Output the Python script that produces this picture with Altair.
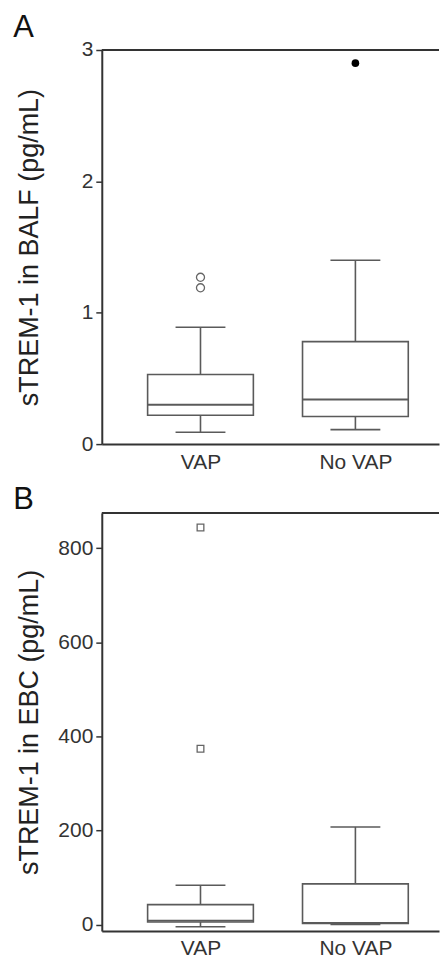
import altair as alt
import pandas as pd

categories = ["VAP", "No VAP"]

# Panel A: sTREM-1 in BALF (pg/mL)
a_lower = [0.09, 0.11]
a_q1 = [0.22, 0.21]
a_median = [0.30, 0.34]
a_q3 = [0.53, 0.78]
a_upper = [0.89, 1.40]
a_out_group = ["VAP", "VAP", "No VAP"]
a_out_value = [1.19, 1.27, 2.90]
a_out_filled = [False, False, True]
a_ticks = [0, 1, 2, 3]

# Panel B: sTREM-1 in EBC (pg/mL)
b_lower = [-4, 1]
b_q1 = [6, 3]
b_median = [9, 4]
b_q3 = [43, 87]
b_upper = [84, 208]
b_out_group = ["VAP", "VAP"]
b_out_value = [374, 844]
b_out_filled = [False, False]
b_ticks = [0, 200, 400, 600, 800]

FONT = "Liberation Sans"
BOX = "#5a5a5a"
AX = "#333333"
W = 338
PX_PER_CAT = 160
X0 = 1 - 96.8 / PX_PER_CAT
label_expr = "[" + ",".join("'" + c + "'" for c in categories) + "][datum.value - 1]"


def panel(letter, title, lower, q1, med, q3, upper, og, ov, of, yticks, ydomain, H, letter_y,
          shape, open_size, fill_size):
    box_df = pd.DataFrame({
        "group": categories,
        "pos": [i + 1 for i in range(len(categories))],
        "lower": lower, "q1": q1, "median": med, "q3": q3, "upper": upper,
    })
    out_df = pd.DataFrame({
        "group": og,
        "pos": [categories.index(g) + 1 for g in og],
        "value": ov,
        "filled": of,
    })
    xenc = alt.X("pos:Q",
                 scale=alt.Scale(domain=[X0, X0 + W / PX_PER_CAT], nice=False, zero=False),
                 axis=alt.Axis(values=[1, 2], labelExpr=label_expr, ticks=False, grid=False,
                               title=None, domainColor=AX, domainWidth=2, labelFont=FONT,
                               labelFontSize=21, labelColor="#333", labelPadding=7))
    yaxis = alt.Axis(values=yticks, grid=False, title=title, domainColor=AX, domainWidth=2,
                     tickColor=AX, tickSize=6, tickWidth=1.5, labelFont=FONT, labelFontSize=21,
                     labelColor="#333", labelPadding=3, titleFont=FONT, titleFontSize=27,
                     titleFontWeight="normal", titleColor="#222", titleX=-72, titleY=H / 2,
                     titleAngle=270, titleAlign="center", titleBaseline="middle")
    yscale = alt.Scale(domain=ydomain, nice=False, zero=False)

    def Y(field):
        return alt.Y(field + ":Q", scale=yscale, axis=yaxis)

    base = alt.Chart(box_df)
    top_rule = alt.Chart(pd.DataFrame({"k": [0]})).mark_rule(color=AX, strokeWidth=2).encode(
        x=alt.value(0), x2=alt.value(W), y=alt.value(0))
    box = base.mark_bar(fill="white", stroke=BOX, strokeWidth=1.6, size=106).encode(
        x=xenc, y=Y("q1"), y2="q3")
    whisk_hi = base.mark_rule(color=BOX, strokeWidth=1.6).encode(x=xenc, y=Y("q3"), y2="upper")
    whisk_lo = base.mark_rule(color=BOX, strokeWidth=1.6).encode(x=xenc, y=Y("lower"), y2="q1")
    cap_hi = base.mark_tick(orient="horizontal", size=50, thickness=1.6, color=BOX, opacity=1).encode(
        x=xenc, y=Y("upper"))
    cap_lo = base.mark_tick(orient="horizontal", size=50, thickness=1.6, color=BOX, opacity=1).encode(
        x=xenc, y=Y("lower"))
    median = base.mark_tick(orient="horizontal", size=106, thickness=1.9, color=BOX, opacity=1).encode(
        x=xenc, y=Y("median"))
    out_open = alt.Chart(out_df).transform_filter("!datum.filled").mark_point(
        shape=shape, filled=False, stroke="#666", strokeWidth=1.3, size=open_size, opacity=1).encode(
        x=xenc, y=Y("value"))
    out_fill = alt.Chart(out_df).transform_filter("datum.filled").mark_point(
        shape=shape, filled=True, color="#000", size=fill_size, opacity=1).encode(
        x=xenc, y=Y("value"))
    letter_t = alt.Chart(pd.DataFrame({"k": [0]})).mark_text(
        text=letter, font=FONT, fontSize=31, align="left", baseline="alphabetic", color="#111").encode(
        x=alt.value(-88.7), y=alt.value(letter_y))
    return alt.layer(top_rule, box, whisk_hi, whisk_lo, cap_hi, cap_lo, median,
                     out_open, out_fill, letter_t).properties(width=W, height=H)


pA = panel("A", "sTREM-1 in BALF (pg/mL)", a_lower, a_q1, a_median, a_q3, a_upper,
           a_out_group, a_out_value, a_out_filled, a_ticks, [0, 3], 395, -12.6, "circle", 65, 58)
pB = panel("B", "sTREM-1 in EBC (pg/mL)", b_lower, b_q1, b_median, b_q3, b_upper,
           b_out_group, b_out_value, b_out_filled, b_ticks, [-13, 875], 419, -4.3, "square", 45, 45)

chart = alt.vconcat(pA, pB, spacing=11).properties(
    padding={"left": 5, "top": 3, "right": 0, "bottom": 0}
).configure_view(strokeWidth=0)

chart.save("out.html", embed_options={"renderer": "svg", "actions": False})
